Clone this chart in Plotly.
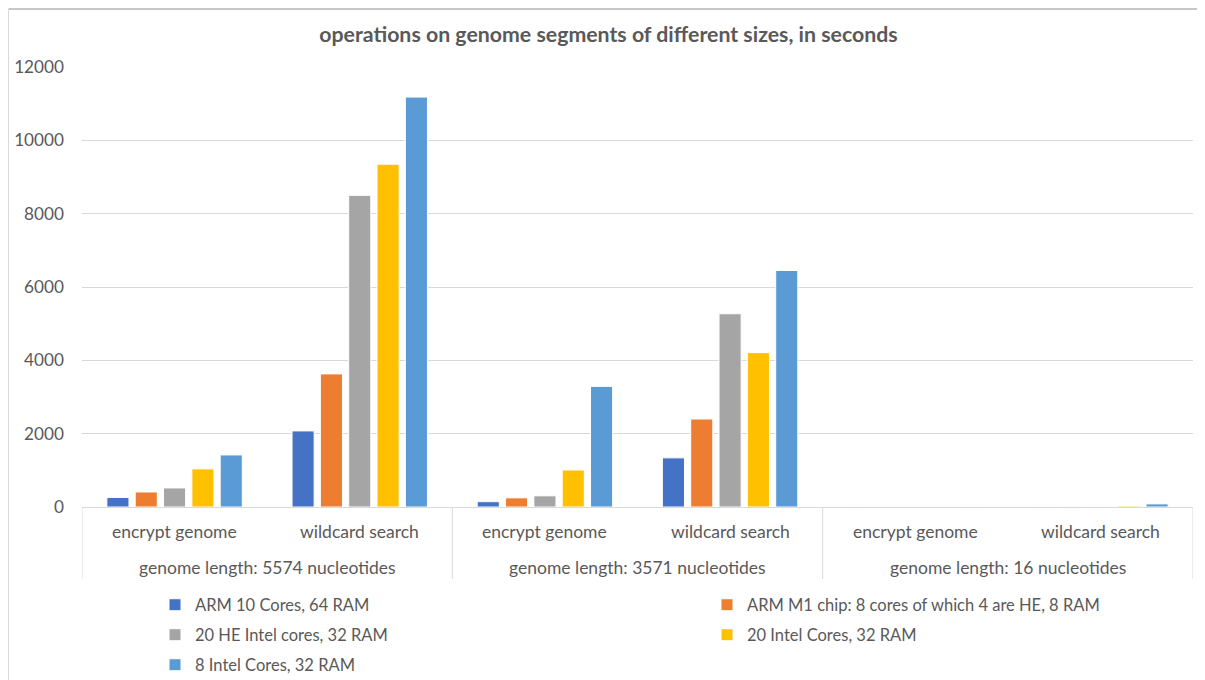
import plotly.graph_objects as go

groups = ["genome length: 5574 nucleotides", "genome length: 3571 nucleotides", "genome length: 16 nucleotides"]
operations = ["encrypt genome", "wildcard search"]

series_names = [
    "ARM 10 Cores, 64 RAM",
    "ARM M1 chip: 8 cores of which 4 are HE, 8 RAM",
    "20 HE Intel cores, 32 RAM",
    "20 Intel Cores, 32 RAM",
    "8 Intel Cores, 32 RAM",
]
colors = ["#4472C4", "#ED7D31", "#A5A5A5", "#FFC000", "#5B9BD5"]

# values per series, order: (5574 enc, 5574 wild, 3571 enc, 3571 wild, 16 enc, 16 wild)
arm10 = [260, 2075, 145, 1340, 1, 2]
arm_m1 = [410, 3630, 250, 2400, 1, 3]
he_intel20 = [520, 8500, 305, 5270, 1, 4]
intel20 = [1040, 9350, 1010, 4210, 2, 28]
intel8 = [1420, 11180, 3290, 6450, 3, 85]
series_values = [arm10, arm_m1, he_intel20, intel20, intel8]

y_ticks = [0, 2000, 4000, 6000, 8000, 10000, 12000]

inner_labels = [o for _ in groups for o in operations]
x_pos = list(range(len(inner_labels)))

font_family = "Lato, 'Open Sans', sans-serif"
text_color = "#595959"
line_color = "#D9D9D9"

# page body adds an 8px margin; figure is sized/positioned to compensate
OFF = 8
W, H = 1205 - OFF, 680 - OFF
ML, MR, MT, MB = 82 - OFF, 12, 67 - OFF, 173
plot_w = W - ML - MR
plot_h = H - MT - MB


def cx(px):
    return (px - OFF) / W


def cy(py):
    return 1 - (py - OFF) / H


legend_ids = ["legend", "legend2", "legend3", "legend4", "legend5"]
legend_xy = [(cx(155), cy(605)), (cx(707), cy(605)),
             (cx(155), cy(635)), (cx(707), cy(635)),
             (cx(155), cy(665))]

fig = go.Figure()
for name, vals, col, lg in zip(series_names, series_values, colors, legend_ids):
    fig.add_trace(go.Bar(
        name=name, x=x_pos, y=vals, showlegend=True,
        marker=dict(color=col, line=dict(color="white", width=1)),
        legend=lg,
    ))

legend_layout = {}
for lg, (lx, ly) in zip(legend_ids, legend_xy):
    legend_layout[lg] = dict(
        visible=True,
        xref="container", yref="container", x=lx, y=ly,
        xanchor="left", yanchor="middle", orientation="h",
        font=dict(family=font_family, size=16.5, color=text_color),
        bgcolor="rgba(0,0,0,0)", itemclick=False, itemdoubleclick=False,
    )

annotations = []
for i, lab in enumerate(inner_labels):
    annotations.append(dict(x=i, y=-24 / plot_h, xref="x", yref="paper", text=lab,
                            showarrow=False, yanchor="middle",
                            font=dict(family=font_family, size=17.5, color=text_color)))
for g, lab in enumerate(groups):
    annotations.append(dict(x=2 * g + 0.5, y=-60 / plot_h, xref="x", yref="paper", text=lab,
                            showarrow=False, yanchor="middle",
                            font=dict(family=font_family, size=17.5, color=text_color)))

shapes = []
for g in range(len(groups) + 1):
    shapes.append(dict(type="line", xref="x", yref="paper", x0=2 * g - 0.5, x1=2 * g - 0.5,
                       y0=0, y1=-72 / plot_h, line=dict(color=line_color, width=1)))
# outer chart border (top and left)
top_y = 1 + (MT - 1) / plot_h
left_x = (0.5 - ML) / plot_w
shapes.append(dict(type="line", xref="paper", yref="paper", x0=left_x, x1=1 + (MR + 5) / plot_w,
                   y0=top_y, y1=top_y, line=dict(color="#C8C8C8", width=2)))
shapes.append(dict(type="line", xref="paper", yref="paper", x0=left_x, x1=left_x,
                   y0=top_y, y1=-(MB + 5) / plot_h, line=dict(color=line_color, width=1)))

fig.update_layout(
    width=W, height=H,
    margin=dict(l=ML, r=MR, t=MT, b=MB, autoexpand=False),
    paper_bgcolor="white", plot_bgcolor="white",
    showlegend=True,
    barmode="group", bargap=0.235, bargroupgap=0.22,
    title=dict(text="<b>operations on genome segments of different sizes, in seconds</b>",
               x=cx(608.5), xanchor="center", y=cy(35), yanchor="middle",
               font=dict(family=font_family, size=21.3, color=text_color)),
    font=dict(family=font_family, size=16, color=text_color),
    yaxis=dict(range=[0, 12000], tickvals=y_ticks, ticktext=[str(v) for v in y_ticks],
               gridcolor=line_color, gridwidth=1, zeroline=False,
               showline=False, ticks="", ticklabelstandoff=17, automargin=False,
               tickfont=dict(family=font_family, size=17.2, color=text_color)),
    xaxis=dict(range=[-0.5, len(inner_labels) - 0.5], showticklabels=False,
               showline=True, linecolor=line_color, linewidth=1,
               showgrid=False, zeroline=False, ticks="", automargin=False),
    annotations=annotations,
    shapes=shapes,
    **legend_layout,
)

fig.write_html("out.html")
